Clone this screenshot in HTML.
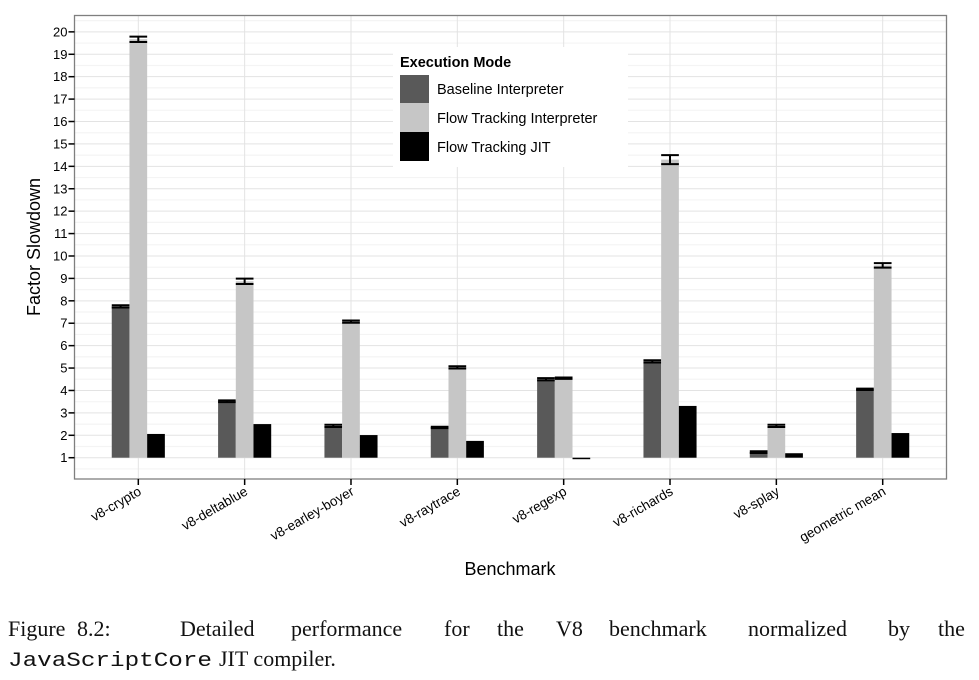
<!DOCTYPE html>
<html><head><meta charset="utf-8"><style>
html,body{margin:0;padding:0;background:#fff;}
svg{display:block;}
text{font-family:"Liberation Sans",Arial,sans-serif;}
.cap{font-family:"Liberation Serif",serif;font-size:22px;fill:#111;}
.mono{font-family:"Liberation Mono",monospace;font-size:20px;fill:#111;}
</style></head><body>
<svg id="chart" width="979" height="680" viewBox="0 0 979 680">
<g id="grid"></g><g id="bars"></g><g id="axes"></g>
<g id="legend">
<rect x="393" y="47" width="235" height="120" fill="#fff"/>
<text x="400" y="67" font-size="14.5" font-weight="bold" fill="#000">Execution Mode</text>
<rect x="400" y="75" width="29" height="28" fill="#595959"/>
<rect x="400" y="103" width="29" height="29" fill="#c6c6c6"/>
<rect x="400" y="132" width="29" height="29" fill="#000"/>
<text x="437" y="94" font-size="14.5">Baseline Interpreter</text>
<text x="437" y="123" font-size="14.5">Flow Tracking Interpreter</text>
<text x="437" y="152" font-size="14.5">Flow Tracking JIT</text>
</g>
<text x="510" y="575" font-size="18" text-anchor="middle">Benchmark</text>
<text transform="translate(40,247) rotate(-90)" font-size="18" text-anchor="middle">Factor Slowdown</text>
<g>
<text class="cap" x="8" y="636">Figure</text><text class="cap" x="77" y="636">8.2:</text>
<text class="cap" x="180" y="636">Detailed</text><text class="cap" x="291" y="636">performance</text>
<text class="cap" x="444" y="636">for</text><text class="cap" x="497" y="636">the</text>
<text class="cap" x="556" y="636">V8</text><text class="cap" x="609" y="636">benchmark</text>
<text class="cap" x="748" y="636">normalized</text><text class="cap" x="888" y="636">by</text>
<text class="cap" x="938" y="636">the</text>
<text class="mono" x="8" y="666" textLength="204" lengthAdjust="spacingAndGlyphs">JavaScriptCore</text>
<text class="cap" x="219" y="666">JIT compiler.</text>
</g>
</svg>
<script>
const categories=["v8-crypto","v8-deltablue","v8-earley-boyer","v8-raytrace","v8-regexp","v8-richards","v8-splay","geometric mean"];
const baseline=[7.75,3.52,2.42,2.35,4.50,5.30,1.25,4.05];
const flowInterp=[19.67,8.87,7.07,5.03,4.55,14.30,2.42,9.58];
const flowJit=[2.06,2.50,2.01,1.75,0.97,3.31,1.20,2.10];
const baselineErr=[0.05,0.04,0.05,0.03,0.05,0.05,0.04,0.03];
const flowInterpErr=[0.12,0.12,0.05,0.05,0.03,0.2,0.05,0.1];
const yTicks=[1,2,3,4,5,6,7,8,9,10,11,12,13,14,15,16,17,18,19,20];
const NS="http://www.w3.org/2000/svg";
const L=74.5,R=946.5,T=15.5,B=479;
const yMin=0.05,yMax=20.73;
function y(v){return B-(v-yMin)/(yMax-yMin)*(B-T);}
const step=(R-L)/(categories.length-1+1.2);
function x(i){return L+step*(i+0.6);}
function mk(tag,attrs,parent){const e=document.createElementNS(NS,tag);for(const k in attrs)e.setAttribute(k,attrs[k]);document.getElementById(parent).appendChild(e);return e;}
mk("rect",{x:L,y:T,width:R-L,height:B-T,fill:"#fff"},"grid");
for(let v=0.5;v<=20.5;v+=1){mk("line",{x1:L,x2:R,y1:y(v),y2:y(v),stroke:"#f4f4f4","stroke-width":1.2},"grid");}
yTicks.forEach(v=>{mk("line",{x1:L,x2:R,y1:y(v),y2:y(v),stroke:"#e3e3e3","stroke-width":1},"grid");});
categories.forEach((c,i)=>{mk("line",{x1:x(i),x2:x(i),y1:T,y2:B,stroke:"#e3e3e3","stroke-width":1},"grid");});
const bw=17.7;
const series=[[baseline,"#595959",baselineErr],[flowInterp,"#c6c6c6",flowInterpErr],[flowJit,"#000",null]];
categories.forEach((c,i)=>{
  series.forEach((s,j)=>{
    const v=s[0][i];const bx=x(i)+(j-1.5)*bw;
    const top=Math.min(y(v),y(1)),h=Math.max(Math.abs(y(1)-y(v)),1.5);
    const r=mk("rect",{x:bx,y:top,width:bw,height:h,fill:s[1]},"bars");
    
    
    if(s[2]){
      const e=s[2][i];const y1=y(v+e),y2=y(v-e);
      mk("line",{x1:bx,x2:bx+bw,y1:y1,y2:y1,stroke:"#000","stroke-width":2},"bars");
      mk("line",{x1:bx,x2:bx+bw,y1:y2,y2:y2,stroke:"#000","stroke-width":2},"bars");
      mk("line",{x1:bx+bw/2,x2:bx+bw/2,y1:y1,y2:y2,stroke:"#000","stroke-width":2},"bars");
    }
  });
});
mk("rect",{x:L,y:T,width:R-L,height:B-T,fill:"none",stroke:"#7f7f7f","stroke-width":1.3},"axes");
yTicks.forEach(v=>{
  mk("line",{x1:L-6,x2:L,y1:y(v),y2:y(v),stroke:"#000","stroke-width":1.5},"axes");
  const t=mk("text",{x:L-7,y:y(v)+4.5,"font-size":13,"text-anchor":"end"},"axes");t.textContent=v;
  
  
});
categories.forEach((c,i)=>{
  mk("line",{x1:x(i),x2:x(i),y1:B,y2:B+6,stroke:"#000","stroke-width":1.5},"axes");
  const t=mk("text",{transform:"translate("+(x(i)+4)+","+(B+15)+") rotate(-30)","font-size":13.5,"text-anchor":"end"},"axes");t.textContent=c;
  
  
});
</script>
</body></html>
